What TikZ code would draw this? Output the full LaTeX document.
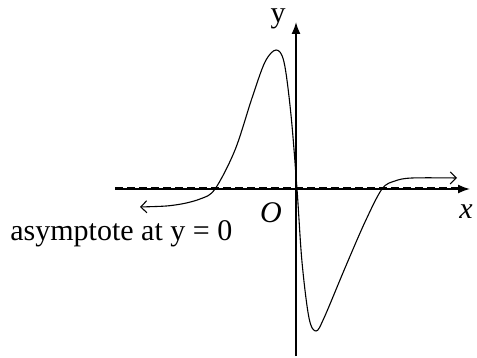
\documentclass[tikz,border=0pt]{standalone}
\usepackage{fontspec}
\setmainfont{Liberation Serif}
\usetikzlibrary{arrows.meta}
\begin{document}
\begin{tikzpicture}[x=0.5pt,y=-0.5pt,
  axis/.style={line width=0.8pt,-{Latex[length=6pt,width=4.5pt]}},
  asym/.style={line width=1.5pt,dash pattern=on 4pt off 2pt},
  curve/.style={line width=0.55pt,{Straight Barb[length=3pt,width=6pt]}-{Straight Barb[length=3pt,width=6pt]}},
  lbl/.style={font=\fontsize{15}{18}\selectfont,inner sep=0pt}]
\useasboundingbox (0,0) rectangle (477,358);
\coordinate (xl) at (115,189);
\coordinate (xr) at (470,189);
\coordinate (yb) at (296,356);
\coordinate (yt) at (296,22);
\draw[asym] (xl) -- (458,189);
\draw[axis] (xl) -- (xr);
\draw[axis] (yb) -- (yt);
\draw[curve] plot[smooth,tension=0.55] coordinates {(140,207) (175,205) (200,199) (215,189) (235,150) (252,98) (265,62) (276,50) (284,62) (291,115) (297,189) (302,262) (309,318) (316,331) (324,318) (345,268) (365,222) (382,189) (395,181) (412,178) (457,178)};
\node[lbl,anchor=base west] (asy) at (10,241) {asymptote at y = 0};
\node[lbl,anchor=center] (o) at (271,213) {\itshape O};
\node[lbl,anchor=center] (x) at (466,212) {\itshape x};
\node[lbl,anchor=center] (y) at (278,19) {y};
\end{tikzpicture}
\end{document}
